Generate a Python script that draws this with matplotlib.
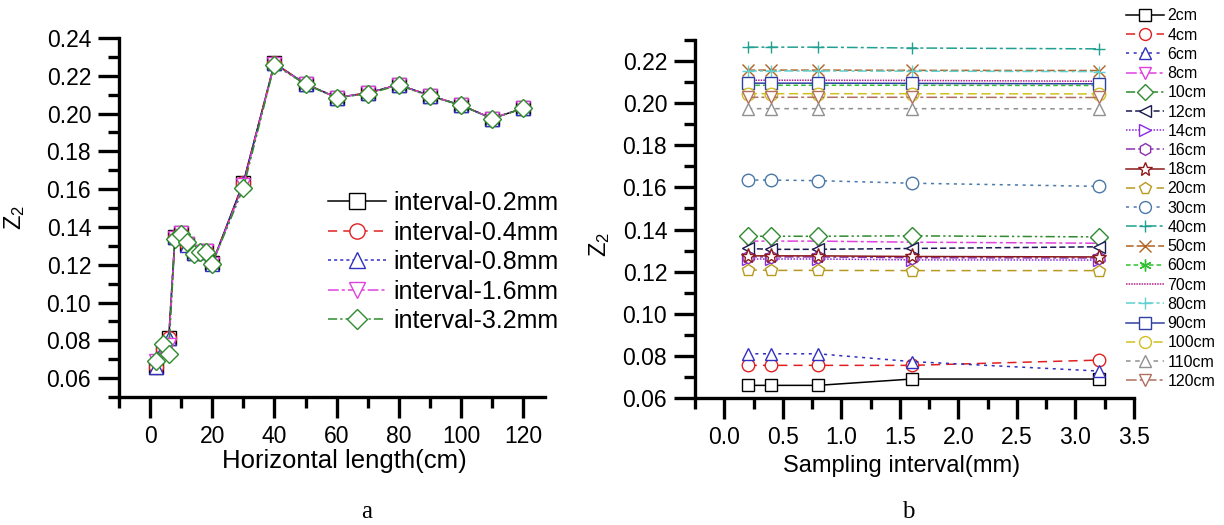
import numpy as np
import matplotlib
matplotlib.use('Agg')
from matplotlib import pyplot as plt
from matplotlib.ticker import MultipleLocator

plt.rcParams['font.family'] = ['Liberation Sans', 'DejaVu Sans']
plt.rcParams['mathtext.default'] = 'regular'

# horizontal lengths (cm) and sampling intervals (mm)
lengths = [2, 4, 6, 8, 10, 12, 14, 16, 18, 20, 30, 40, 50, 60, 70, 80, 90, 100, 110, 120]
intervals = [0.2, 0.4, 0.8, 1.6, 3.2]

# Z2 values: one row per length, one column per interval
z2 = np.array([
    [0.0660, 0.0660, 0.0660, 0.0690, 0.0690],
    [0.0755, 0.0755, 0.0755, 0.0755, 0.0780],
    [0.0810, 0.0810, 0.0810, 0.0773, 0.0728],
    [0.1345, 0.1345, 0.1345, 0.1340, 0.1335],
    [0.1368, 0.1368, 0.1368, 0.1370, 0.1365],
    [0.1310, 0.1306, 0.1306, 0.1310, 0.1318],
    [0.1260, 0.1260, 0.1260, 0.1256, 0.1255],
    [0.1270, 0.1270, 0.1270, 0.1266, 0.1265],
    [0.1275, 0.1275, 0.1275, 0.1272, 0.1270],
    [0.1208, 0.1206, 0.1206, 0.1205, 0.1205],
    [0.1635, 0.1635, 0.1632, 0.1620, 0.1605],
    [0.2266, 0.2266, 0.2266, 0.2262, 0.2258],
    [0.2157, 0.2157, 0.2157, 0.2156, 0.2155],
    [0.2085, 0.2085, 0.2085, 0.2085, 0.2084],
    [0.2109, 0.2109, 0.2109, 0.2108, 0.2104],
    [0.2153, 0.2153, 0.2153, 0.2152, 0.2150],
    [0.2095, 0.2095, 0.2095, 0.2094, 0.2092],
    [0.2045, 0.2045, 0.2045, 0.2045, 0.2044],
    [0.1974, 0.1974, 0.1974, 0.1974, 0.1973],
    [0.2028, 0.2028, 0.2028, 0.2028, 0.2027],
])

interval_labels = ['interval-0.2mm', 'interval-0.4mm', 'interval-0.8mm', 'interval-1.6mm', 'interval-3.2mm']
length_labels = ['%dcm' % l for l in lengths]

dashdotdot = (0, (6, 2, 1.5, 2, 1.5, 2))

# styles for panel a (color, linestyle, marker)
styles_a = [
    ('black', '-', 's'),
    ('#e02020', (0, (6, 4)), 'o'),
    ('#3030c0', (0, (2, 2)), '^'),
    ('#e040e0', (0, (7, 2, 2, 2)), 'v'),
    ('#2e8b2e', dashdotdot, 'D'),
]

# styles for panel b
styles_b = [
    ('black', '-', 's'),
    ('#e02020', (0, (6, 4)), 'o'),
    ('#3030c0', (0, (2, 3)), '^'),
    ('#e040e0', (0, (7, 2, 2, 2)), 'v'),
    ('#2e8b2e', dashdotdot, 'D'),
    ('#1a1a50', (0, (4, 2)), '<'),
    ('#8a2be2', (0, (1, 1)), '>'),
    ('#8b2fb0', (0, (6, 2, 2, 2)), 'h'),
    ('#8b1a1a', '-', '*'),
    ('#b89a20', (0, (6, 4)), 'p'),
    ('#4a78a8', (0, (2, 3)), 'o'),
    ('#20a090', (0, (7, 2, 2, 2)), '+'),
    ('#b06020', (0, (5, 2)), 'x'),
    ('#30c030', (0, (3, 2)), (6, 2, 0)),
    ('#b0208a', (0, (1, 0.7)), None),
    ('#60d0d0', (0, (6, 2, 2, 2)), '+'),
    ('#3040a0', '-', 's'),
    ('#d0c020', (0, (6, 3)), 'o'),
    ('#909090', (0, (3, 3)), '^'),
    ('#b07060', (0, (7, 2, 2, 2)), 'v'),
]


def style_axes(ax):
    for s in ['top', 'right']:
        ax.spines[s].set_visible(False)
    for s in ['left', 'bottom']:
        ax.spines[s].set_linewidth(2.4)
    ax.tick_params(which='major', direction='out', length=15, width=2.4, labelsize=16.5, pad=5)
    ax.tick_params(which='minor', direction='out', length=8, width=2.4)
    ax.tick_params(axis='x', which='major', pad=5)


fig = plt.figure(figsize=(12.24, 5.25), dpi=100)

# ---- panel a ----
ax1 = fig.add_axes([0.0972, 0.2438, 0.348, 0.6838])
for j, (c, ls, m) in enumerate(styles_a):
    ax1.plot(lengths, z2[:, j], color=c, linestyle=ls, linewidth=1.1, marker=m,
             markersize=10 if m != 'D' else 9, markerfacecolor='white', markeredgecolor=c,
             markeredgewidth=1.0, label=interval_labels[j])
ax1.set_xlim(-10, 127)
ax1.set_ylim(0.05, 0.24)
ax1.xaxis.set_major_locator(MultipleLocator(20))
ax1.xaxis.set_minor_locator(MultipleLocator(10))
ax1.yaxis.set_major_locator(MultipleLocator(0.02))
ax1.yaxis.set_minor_locator(MultipleLocator(0.01))
ax1.yaxis.set_major_formatter(plt.FormatStrFormatter('%.2f'))
style_axes(ax1)
ax1.set_xlabel('Horizontal length(cm)', fontsize=18.5)
ax1.xaxis.set_label_coords((344 - 119) / (545 - 119), -0.145)
ax1.set_ylabel('Z$_2$', fontsize=17)
ax1.yaxis.set_label_coords(-0.215, 0.5)
fig.legend(*ax1.get_legend_handles_labels(), loc='upper left', bbox_to_anchor=(0.268, 0.636),
           frameon=False, fontsize=18, handlelength=2.3, handletextpad=0.3,
           labelspacing=0.22, borderpad=0, borderaxespad=0, markerscale=1.1)

# ---- panel b ----
ax2 = fig.add_axes([0.5678, 0.2419, 0.3587, 0.6819])
for i, (c, ls, m) in enumerate(styles_b):
    ms = 9
    if m == '*':
        ms = 11
    ax2.plot(intervals, z2[i, :], color=c, linestyle=ls, linewidth=1.1, marker=m,
             markersize=ms, markerfacecolor='white', markeredgecolor=c,
             markeredgewidth=1.0, label=length_labels[i])
ax2.set_xlim(-0.25, 3.5)
ax2.set_ylim(0.06, 0.23)
ax2.xaxis.set_major_locator(MultipleLocator(0.5))
ax2.xaxis.set_minor_locator(MultipleLocator(0.25))
ax2.yaxis.set_major_locator(MultipleLocator(0.02))
ax2.yaxis.set_minor_locator(MultipleLocator(0.01))
ax2.yaxis.set_major_formatter(plt.FormatStrFormatter('%.2f'))
ax2.xaxis.set_major_formatter(plt.FormatStrFormatter('%.1f'))
style_axes(ax2)
ax2.set_xlabel('Sampling interval(mm)', fontsize=17)
ax2.xaxis.set_label_coords((902 - 695) / (1134 - 695), -0.16)
ax2.set_ylabel('Z$_2$', fontsize=17)
ax2.yaxis.set_label_coords(-0.19, 0.43)
fig.legend(*ax2.get_legend_handles_labels(), loc='upper left', bbox_to_anchor=(0.920, 0.984),
           frameon=False, fontsize=11.5, handlelength=2.4, handletextpad=0.2,
           labelspacing=0.265, borderpad=0, borderaxespad=0, markerscale=0.95)

# captions
fig.text(367 / 1224, 1 - 512 / 525, 'a', fontsize=18, family='Liberation Serif', ha='center', va='center')
fig.text(908 / 1224, 1 - 512 / 525, 'b', fontsize=18, family='Liberation Serif', ha='center', va='center')

fig.savefig('out.png', dpi=100)
